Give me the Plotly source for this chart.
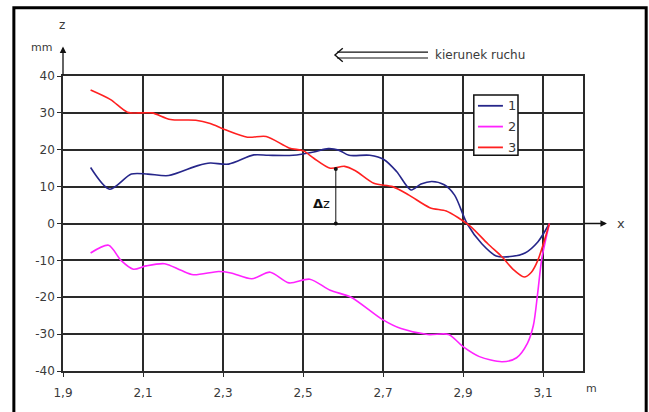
import plotly.graph_objects as go

# Profile measurements along the track (x in m, z in mm)
x1 = [1.969, 2.017, 2.071, 2.112, 2.164, 2.237, 2.268, 2.314, 2.377, 2.413, 2.475, 2.527,
      2.563, 2.589, 2.615, 2.667, 2.703, 2.734, 2.770, 2.795, 2.822, 2.853, 2.879, 2.910,
      2.947, 2.983, 3.024, 3.055, 3.087, 3.116]
z1 = [15.2, 9.3, 13.4, 13.4, 13.0, 15.7, 16.4, 16.1, 18.6, 18.5, 18.5, 19.4,
      20.3, 19.9, 18.5, 18.5, 17.3, 14.1, 9.1, 10.7, 11.4, 10.5, 7.7, 0.0,
      -5.5, -8.8, -8.9, -8.0, -5.0, 0.0]

x2 = [1.969, 2.014, 2.045, 2.076, 2.107, 2.154, 2.195, 2.226, 2.289, 2.320, 2.372, 2.418,
      2.465, 2.517, 2.568, 2.620, 2.698, 2.745, 2.812, 2.864, 2.900, 2.941, 2.998, 3.034,
      3.061, 3.076, 3.087, 3.097, 3.116]
z2 = [-8.0, -5.9, -10.0, -12.4, -11.5, -10.9, -12.7, -13.9, -13.0, -13.4, -15.0, -13.2,
      -16.1, -15.1, -18.1, -20.0, -26.0, -28.5, -30.1, -30.1, -33.4, -36.1, -37.5, -36.4,
      -32.5, -27.6, -18.6, -9.5, 0.0]

x3 = [1.969, 2.019, 2.061, 2.097, 2.123, 2.169, 2.232, 2.268, 2.304, 2.361, 2.408, 2.465,
      2.501, 2.527, 2.568, 2.604, 2.631, 2.677, 2.724, 2.765, 2.817, 2.858, 2.889, 2.920,
      2.962, 2.998, 3.024, 3.053, 3.071, 3.087, 3.116]
z3 = [36.2, 33.6, 30.2, 30.0, 30.0, 28.2, 28.0, 27.1, 25.5, 23.4, 23.6, 20.5,
      19.7, 17.7, 15.0, 15.5, 14.3, 10.9, 10.0, 7.7, 4.3, 3.4, 1.5, -0.9,
      -5.5, -9.1, -12.3, -14.5, -13.2, -10.0, 0.0]

series_names = ["1", "2", "3"]
series_colors = ["#26268a", "#ff22ff", "#ff2020"]

x_ticks = [1.9, 2.1, 2.3, 2.5, 2.7, 2.9, 3.1]
x_tick_text = ["1,9", "2,1", "2,3", "2,5", "2,7", "2,9", "3,1"]
y_ticks = [-40, -30, -20, -10, 0, 10, 20, 30, 40]
y_tick_text = ["-40", "-30", "-20", "-10", "0", "10", "20", "30", "40"]

# Height difference marker between curve 3 and the x axis
dz_x = 2.582
dz_top = 14.8

FONT = "DejaVu Sans"
GRID = "#2a2a2a"
TXT = "#3a3a3a"

fig = go.Figure()
for xs, zs, name, col in zip([x1, x2, x3], [z1, z2, z3], series_names, series_colors):
    fig.add_trace(go.Scatter(x=xs, y=zs, name=name, mode="lines", showlegend=False,
                             line=dict(color=col, width=1.6, shape="spline", smoothing=0.8)))

# Δz bracket
fig.add_trace(go.Scatter(x=[dz_x, dz_x], y=[0, dz_top], mode="lines+markers",
                         line=dict(color="#111111", width=1),
                         marker=dict(size=4, color="#111111"),
                         showlegend=False, hoverinfo="skip"))

fig.update_layout(
    width=649, height=412,
    margin=dict(l=63, r=66, t=76, b=38),
    paper_bgcolor="white", plot_bgcolor="white",
    font=dict(family=FONT, size=12, color=TXT),
    showlegend=False,
)

fig.update_xaxes(range=[1.9, 3.2], tickvals=x_ticks, ticktext=x_tick_text,
                 showgrid=True, gridcolor=GRID, gridwidth=1.5,
                 showline=True, linecolor=GRID, linewidth=1.5, mirror=True,
                 ticks="outside", ticklen=4, tickcolor=GRID, tickwidth=1,
                 ticklabelstandoff=6, zeroline=False,
                 tickfont=dict(family=FONT, size=12, color=TXT))
fig.update_yaxes(range=[-40, 40], tickvals=y_ticks, ticktext=y_tick_text,
                 showgrid=True, gridcolor=GRID, gridwidth=1.5,
                 showline=True, linecolor=GRID, linewidth=1.5, mirror=True,
                 ticks="outside", ticklen=4, tickcolor=GRID, tickwidth=1,
                 zeroline=False,
                 tickfont=dict(family=FONT, size=12, color=TXT))

# Legend box drawn as shapes
leg_x0, leg_x1 = 0.790, 0.875
leg_y0, leg_y1 = 0.7315, 0.936
fig.add_shape(type="rect", xref="paper", yref="paper",
              x0=leg_x0, x1=leg_x1, y0=leg_y0, y1=leg_y1,
              line=dict(color="#111111", width=1.5), fillcolor="white", layer="above")
for i, (name, col) in enumerate(zip(series_names, series_colors)):
    yy = 0.899 - i * 0.0705
    fig.add_shape(type="line", xref="paper", yref="paper",
                  x0=0.798, x1=0.846, y0=yy, y1=yy,
                  line=dict(color=col, width=1.8), layer="above")
    fig.add_annotation(xref="paper", yref="paper", x=0.863, y=yy, text=name,
                       xanchor="center", yanchor="middle", showarrow=False,
                       font=dict(family=FONT, size=13, color=TXT))

# Outer frame
fig.add_shape(type="rect", xref="paper", yref="paper",
              x0=-0.0945, x1=1.1215, y0=-0.2, y1=1.2315,
              line=dict(color="black", width=3), layer="above")

# Axis arrows
fig.add_annotation(xref="paper", yref="paper", x=0, y=1.10, ax=0, ay=30,
                   axref="pixel", ayref="pixel", text="", showarrow=True,
                   arrowhead=2, arrowsize=1, arrowwidth=1.3, arrowcolor="#111111")
fig.add_annotation(xref="paper", yref="y", x=1.046, y=0, ax=-24, ay=0,
                   text="", showarrow=True,
                   arrowhead=2, arrowsize=1, arrowwidth=1.3, arrowcolor="#111111")

# Axis titles
fig.add_annotation(xref="paper", yref="paper", x=-0.002, y=1.172, text="z",
                   xanchor="center", yanchor="middle",
                   showarrow=False, font=dict(family=FONT, size=12, color=TXT))
fig.add_annotation(xref="paper", yref="paper", x=-0.042, y=1.097, text="mm",
                   xanchor="center", yanchor="middle",
                   showarrow=False, font=dict(family=FONT, size=11, color=TXT))
fig.add_annotation(xref="paper", yref="y", x=1.073, y=0, text="x",
                   xanchor="center", yanchor="middle",
                   showarrow=False, font=dict(family=FONT, size=13, color=TXT))
fig.add_annotation(xref="paper", yref="paper", x=1.017, y=-0.06, text="m",
                   xanchor="center", yanchor="middle",
                   showarrow=False, font=dict(family=FONT, size=11, color=TXT))

# Direction of motion
for yy in [1.081, 1.061]:
    fig.add_shape(type="line", xref="paper", yref="paper", x0=0.527, x1=0.702,
                  y0=yy, y1=yy, line=dict(color="#111111", width=1.2))
fig.add_shape(type="path", xref="paper", yref="paper",
              path="M 0.538 1.094 L 0.523 1.071 L 0.538 1.048",
              line=dict(color="#111111", width=1.4))
fig.add_annotation(xref="paper", yref="paper", x=0.712, y=1.0715,
                   xanchor="left", yanchor="middle",
                   text="kierunek ruchu", showarrow=False,
                   font=dict(family=FONT, size=12, color=TXT))

# Δz label
fig.add_annotation(x=dz_x, y=5.4, xanchor="right", yanchor="middle", xshift=-4,
                   text="<b>Δ</b>z",
                   showarrow=False, font=dict(family=FONT, size=13, color="#111111"))

fig.write_html("out.html")
